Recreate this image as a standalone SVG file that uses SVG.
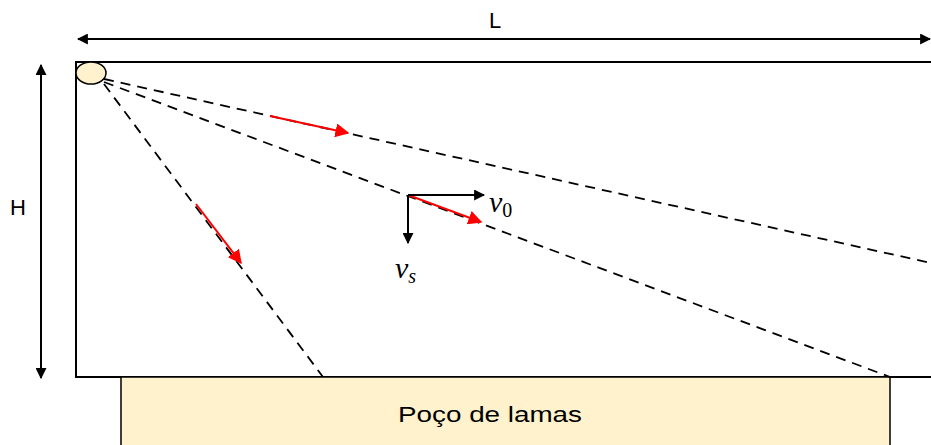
<svg xmlns="http://www.w3.org/2000/svg" width="931" height="445" viewBox="0 0 931 445">
<style>
.ln{stroke:#000;stroke-width:2;fill:none}
.ds{stroke:#000;stroke-width:1.8;fill:none;stroke-dasharray:10,7}
.red{stroke:#f00;stroke-width:2;fill:none}
.lbl{font-family:"Liberation Sans",Arial,sans-serif;font-size:22px;fill:#000}
.m{font-family:"Liberation Serif","DejaVu Serif",serif;font-size:30px;fill:#000}
</style>
<defs>
<marker id="ab" viewBox="0 0 10 10" refX="9" refY="5" markerWidth="5.5" markerHeight="5.5" orient="auto-start-reverse" markerUnits="strokeWidth"><path d="M0,0 L10,5 L0,10 Z" fill="#000"/></marker>
<marker id="ar" viewBox="0 0 10 10" refX="9" refY="5" markerWidth="7" markerHeight="7" orient="auto" markerUnits="strokeWidth"><path d="M0,0 L10,5 L0,10 Z" fill="#f00"/></marker>
</defs>
<rect width="931" height="445" fill="#fff"/>
<g id="tank">
<polyline class="ln" points="931,62 76,62 76,377 931,377"/>
</g>
<g id="pool">
<rect x="121" y="377" width="769" height="70" fill="#FFF2CC" stroke="#000" stroke-width="1.5"/>
<text class="lbl" x="490" y="422" text-anchor="middle" font-size="24" textLength="184" lengthAdjust="spacingAndGlyphs">Poço de lamas</text>
</g>
<g id="connectors">
<line class="ds" x1="104" y1="79" x2="931" y2="263"/>
<line class="ds" x1="104" y1="82" x2="890" y2="377"/>
<line class="ds" x1="104" y1="84" x2="323" y2="377"/>
<line class="red" x1="270" y1="116" x2="348" y2="133" marker-end="url(#ar)"/>
<line class="red" x1="408" y1="195" x2="481" y2="222" marker-end="url(#ar)"/>
<line class="red" x1="196" y1="204" x2="241" y2="263" marker-end="url(#ar)"/>
<line class="ln" x1="408" y1="195" x2="484" y2="195" marker-end="url(#ab)"/>
<line class="ln" x1="408" y1="195" x2="408" y2="243" marker-end="url(#ab)"/>
<line class="ln" x1="78" y1="39" x2="930" y2="39" marker-start="url(#ab)" marker-end="url(#ab)"/>
<line class="ln" x1="41" y1="65" x2="41" y2="378" marker-start="url(#ab)" marker-end="url(#ab)"/>
</g>
<g id="particle">
<ellipse cx="91" cy="73" rx="15" ry="11" fill="#FFF2CC" stroke="#000" stroke-width="1.5"/>
</g>
<g id="labels">
<text class="lbl" x="495" y="28" text-anchor="middle">L</text>
<text class="lbl" x="18" y="215" text-anchor="middle">H</text>
<text class="m" x="489" y="212" font-style="italic">v<tspan font-style="normal" font-size="20" dy="5">0</tspan></text>
<text class="m" x="395" y="278" font-style="italic">v<tspan font-size="20" dy="5">s</tspan></text>
</g>
</svg>
